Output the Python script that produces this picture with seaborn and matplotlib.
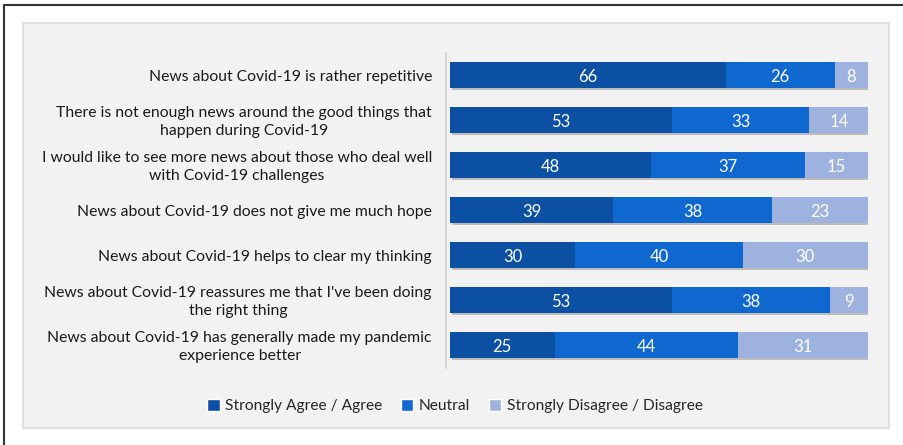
import matplotlib
matplotlib.use("Agg")
import matplotlib.pyplot as plt
import matplotlib.patheffects as pe
import matplotlib.transforms as mtransforms
from matplotlib.patches import Rectangle
import seaborn as sns
import pandas as pd
import numpy as np

categories = [
    "News about Covid-19 is rather repetitive",
    "There is not enough news around the good things that\nhappen during Covid-19",
    "I would like to see more news about those who deal well\nwith Covid-19 challenges",
    "News about Covid-19 does not give me much hope",
    "News about Covid-19 helps to clear my thinking",
    "News about Covid-19 reassures me that I've been doing\nthe right thing",
    "News about Covid-19 has generally made my pandemic\nexperience better",
]
agree = [66, 53, 48, 39, 30, 53, 25]
neutral = [26, 33, 37, 38, 40, 38, 44]
disagree = [8, 14, 15, 23, 30, 9, 31]
series_names = ["Strongly Agree / Agree", "Neutral", "Strongly Disagree / Disagree"]
colors = ["#0b50a3", "#0f68cf", "#9db2de"]

sns.set_theme(style="white")
plt.rcParams["font.family"] = ["Lato", "DejaVu Sans"]

df = pd.DataFrame({"cat": categories, "a": agree, "n": neutral, "d": disagree})
df["an"] = df["a"] + df["n"]
df["tot"] = df["an"] + df["d"]

fig = plt.figure(figsize=(9.04, 4.45), dpi=100)
fig.patch.set_facecolor("white")
W, H = 904, 445
fig.add_artist(plt.Line2D([4.5 / W, 4.5 / W], [0, 1 - 4.5 / H], color="#333333", lw=1.5, transform=fig.transFigure))
fig.add_artist(plt.Line2D([4.5 / W, 1], [1 - 4.5 / H, 1 - 4.5 / H], color="#333333", lw=1.5, transform=fig.transFigure))
fig.add_artist(Rectangle((23 / W, 1 - 428 / H), (889 - 23) / W, (428 - 23) / H,
                         facecolor="#f2f2f2", edgecolor="#dcdcdc", lw=1.2, transform=fig.transFigure, zorder=0))

ax = fig.add_axes([450 / W, 1 - 367.5 / H, (868 - 450) / W, (367.5 - 52.5) / H])
ax.set_facecolor("none")

shadow = [pe.SimplePatchShadow(offset=(1.5, -1.5), shadow_rgbFace="#888888", alpha=0.5), pe.Normal()]
for k, (col, c) in enumerate(zip(["tot", "an", "a"], colors[::-1])):
    sns.barplot(data=df, y="cat", x=col, orient="h", color=c, width=0.56, ax=ax,
                saturation=1, linewidth=0)
    if k == 0:
        for p in ax.patches:
            p.set_path_effects(shadow)

dy = 0.045
for i in range(len(categories)):
    starts = [0, agree[i], agree[i] + neutral[i]]
    vals = [agree[i], neutral[i], disagree[i]]
    for s, v in zip(starts, vals):
        ax.text(s + v / 2, i + dy, str(v), ha="center", va="center", color="white", fontsize=12)

ax.set_xlim(0, 100)
ax.set_ylim(6.5, -0.5)
ax.set_xlabel("")
ax.set_ylabel("")
ax.set_xticks([])
ax.set_yticks(range(len(categories)))
ax.set_yticklabels([])
ax.tick_params(axis="y", length=0)
trans = mtransforms.blended_transform_factory(ax.transAxes, ax.transData)
for i, lab in enumerate(categories):
    ax.text(-18 / 418, i + dy, lab, transform=trans, ha="right", va="center", multialignment="center",
            fontsize=11.3, color="#1a1a1a", linespacing=1.32)
for s in ["top", "right", "bottom"]:
    ax.spines[s].set_visible(False)
ax.spines["left"].set_color("#d0d0d0")
ax.spines["left"].set_linewidth(1.2)
ax.spines["left"].set_position(("outward", 3))

handles = [Rectangle((0, 0), 1, 1, facecolor=c) for c in colors]
fig.legend(handles, series_names, loc="center", bbox_to_anchor=(455 / W, 1 - 406 / H), ncol=3,
           frameon=False, fontsize=11.2, handlelength=0.8, handleheight=0.8, handletextpad=0.35,
           columnspacing=1.2)

fig.savefig("out.png", dpi=100)
